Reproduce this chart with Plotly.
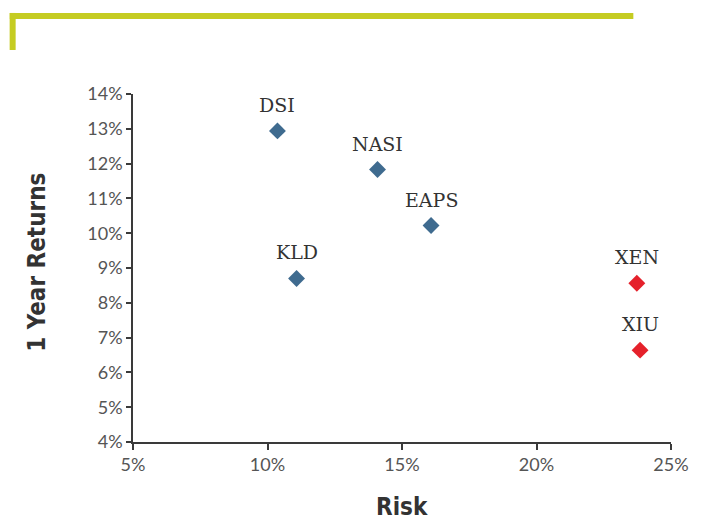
import plotly.graph_objects as go

# Data
names_blue = ["DSI", "NASI", "EAPS", "KLD"]
risk_blue = [10.37, 14.09, 16.08, 11.08]
ret_blue = [12.94, 11.83, 10.22, 8.70]

names_red = ["XEN", "XIU"]
risk_red = [23.73, 23.85]
ret_red = [8.56, 6.64]

x_ticks = [5, 10, 15, 20, 25]
y_ticks = [4, 5, 6, 7, 8, 9, 10, 11, 12, 13, 14]

BLUE = "#3f6b8f"
RED = "#e5212b"
GREEN = "#c5cc22"
AXIS = "#3a3a3a"
TITLE_FONT = "DejaVu Sans Condensed, Liberation Sans Narrow, Roboto"

fig = go.Figure()
fig.add_trace(go.Scatter(x=risk_blue, y=ret_blue, mode="markers",
                         marker=dict(symbol="diamond", size=13, color=BLUE),
                         hoverinfo="text", text=names_blue, showlegend=False))
fig.add_trace(go.Scatter(x=risk_red, y=ret_red, mode="markers",
                         marker=dict(symbol="diamond", size=13, color=RED),
                         hoverinfo="text", text=names_red, showlegend=False))

annotations = []
for n, xv, yv in zip(names_blue + names_red, risk_blue + risk_red, ret_blue + ret_red):
    annotations.append(dict(x=xv, y=yv, xref="x", yref="y", text=n, showarrow=False,
                            yshift=26, font=dict(family="DejaVu Serif", size=19, color="#333333")))

annotations.append(dict(x=0.5, y=-0.186, xref="paper", yref="paper", text="<b>Risk</b>",
                        showarrow=False, xanchor="center", yanchor="middle",
                        font=dict(family=TITLE_FONT, size=24, color="#333333")))
annotations.append(dict(x=-0.179, y=0.517, xref="paper", yref="paper", text="<b>1 Year Returns</b>",
                        showarrow=False, xanchor="center", yanchor="middle", textangle=-90,
                        font=dict(family=TITLE_FONT, size=24, color="#333333")))

tickfont = dict(family="Lato", size=18, color="#555555")

fig.update_layout(
    width=703, height=525,
    margin=dict(l=133, r=32, t=94, b=83),
    paper_bgcolor="white", plot_bgcolor="white",
    annotations=annotations,
    xaxis=dict(range=[5, 25], tickvals=x_ticks, ticktext=[f"{v}%" for v in x_ticks],
               showgrid=False, zeroline=False, showline=True, linecolor=AXIS, linewidth=1.5,
               ticks="outside", ticklen=6, tickcolor=AXIS, tickwidth=1.5,
               tickfont=tickfont),
    yaxis=dict(range=[4, 14], tickvals=y_ticks, ticktext=[f"{v}%" for v in y_ticks],
               showgrid=False, zeroline=False, showline=True, linecolor=AXIS, linewidth=1.5,
               ticks="outside", ticklen=5, tickcolor=AXIS, tickwidth=1.5,
               tickfont=tickfont),
    shapes=[
        dict(type="line", xref="paper", yref="paper", x0=-0.229, x1=0.930, y0=1.2243, y1=1.2243,
             line=dict(color=GREEN, width=6)),
        dict(type="line", xref="paper", yref="paper", x0=-0.2237, x1=-0.2237, y0=1.2329, y1=1.1265,
             line=dict(color=GREEN, width=6)),
    ],
)

fig.write_html("out.html")
